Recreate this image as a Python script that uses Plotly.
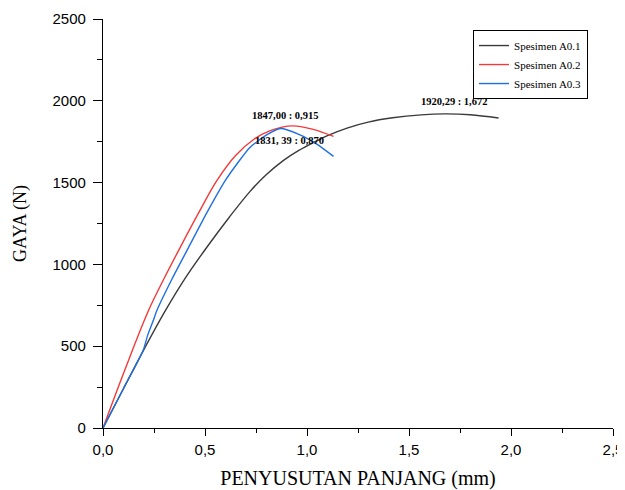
import plotly.graph_objects as go

# Spesimen A0.1 (black)
a1_x = [0, 0.10, 0.205, 0.30, 0.40, 0.509, 0.62, 0.72, 0.80, 0.885, 0.96, 1.04, 1.10, 1.20, 1.30, 1.42, 1.56, 1.672, 1.80, 1.939]
a1_y = [0, 240, 490, 705, 910, 1105, 1290, 1445, 1548, 1636, 1697, 1750, 1787, 1835, 1870, 1896, 1914, 1920, 1915, 1895]

# Spesimen A0.2 (red)
a2_x = [0, 0.107, 0.222, 0.30, 0.378, 0.47, 0.558, 0.65, 0.74, 0.82, 0.93, 1.03, 1.13]
a2_y = [0, 355, 715, 915, 1103, 1318, 1512, 1666, 1765, 1818, 1847, 1825, 1782]

# Spesimen A0.3 (blue)
a3_x = [0, 0.10, 0.197, 0.218, 0.246, 0.263, 0.34, 0.419, 0.51, 0.599, 0.66, 0.72, 0.80, 0.87, 0.96, 1.048, 1.13]
a3_y = [0, 240, 475, 563, 655, 715, 915, 1103, 1318, 1512, 1620, 1715, 1790, 1831, 1795, 1735, 1660]

x_ticks = [0, 0.5, 1.0, 1.5, 2.0, 2.5]
x_labels = ["0,0", "0,5", "1,0", "1,5", "2,0", "2,5"]
y_ticks = [0, 500, 1000, 1500, 2000, 2500]

notes = [
    (0.897, 1912, "1847,00 : 0,915"),
    (0.912, 1760, "1831, 39 : 0,870"),
    (1.723, 1994, "1920,29 : 1,672"),
]

fig = go.Figure()
fig.add_trace(go.Scatter(x=a1_x, y=a1_y, mode="lines", name="Spesimen A0.1",
                         line=dict(color="#3a3a3a", width=1.4, shape="spline", smoothing=1.0)))
fig.add_trace(go.Scatter(x=a2_x, y=a2_y, mode="lines", name="Spesimen A0.2",
                         line=dict(color="#f23a3a", width=1.4, shape="spline", smoothing=1.0)))
fig.add_trace(go.Scatter(x=a3_x, y=a3_y, mode="lines", name="Spesimen A0.3",
                         line=dict(color="#1f6fe0", width=1.4, shape="spline", smoothing=0.6)))

for nx, ny, txt in notes:
    fig.add_annotation(x=nx, y=ny, text="<b>" + txt + "</b>", showarrow=False,
                       font=dict(family="Liberation Serif", size=10.5, color="black"))

# the page body adds an 8px offset, so the figure is 8px smaller and margins shifted
fig.update_layout(
    width=617, height=482,
    margin=dict(l=95, r=12, t=11, b=62, autoexpand=False),
    paper_bgcolor="white", plot_bgcolor="white",
    showlegend=True,
    legend=dict(x=0.951, y=0.973, xanchor="right", yanchor="top",
                bordercolor="black", borderwidth=1, bgcolor="white",
                font=dict(family="Liberation Serif", size=11, color="black"),
                itemwidth=30, tracegroupgap=0),
    xaxis=dict(range=[0, 2.5], tickvals=x_ticks, ticktext=x_labels, automargin=False,
               showgrid=False, zeroline=False, showline=True, linecolor="black", linewidth=1.3,
               ticks="outside", ticklen=7, tickwidth=1.3, tickcolor="black",
               ticklabelstandoff=1,
               minor=dict(ticks="outside", ticklen=4, tickwidth=1, tickcolor="black", dtick=0.25),
               tickfont=dict(family="Liberation Sans", size=15, color="black"),
               title=dict(text="PENYUSUTAN PANJANG (mm)", standoff=18,
                          font=dict(family="Liberation Serif", size=20, color="black"))),
    yaxis=dict(range=[0, 2500], tickvals=y_ticks, automargin=False,
               showgrid=False, zeroline=False, showline=True, linecolor="black", linewidth=1.3,
               ticks="outside", ticklen=9, tickwidth=1.3, tickcolor="black",
               ticklabelstandoff=4,
               minor=dict(ticks="outside", ticklen=5, tickwidth=1, tickcolor="black", dtick=250),
               tickfont=dict(family="Liberation Sans", size=15, color="black"),
               title=dict(text="GAYA (N)", standoff=21,
                          font=dict(family="Liberation Serif", size=18, color="black"))),
)

fig.write_html("out.html")
